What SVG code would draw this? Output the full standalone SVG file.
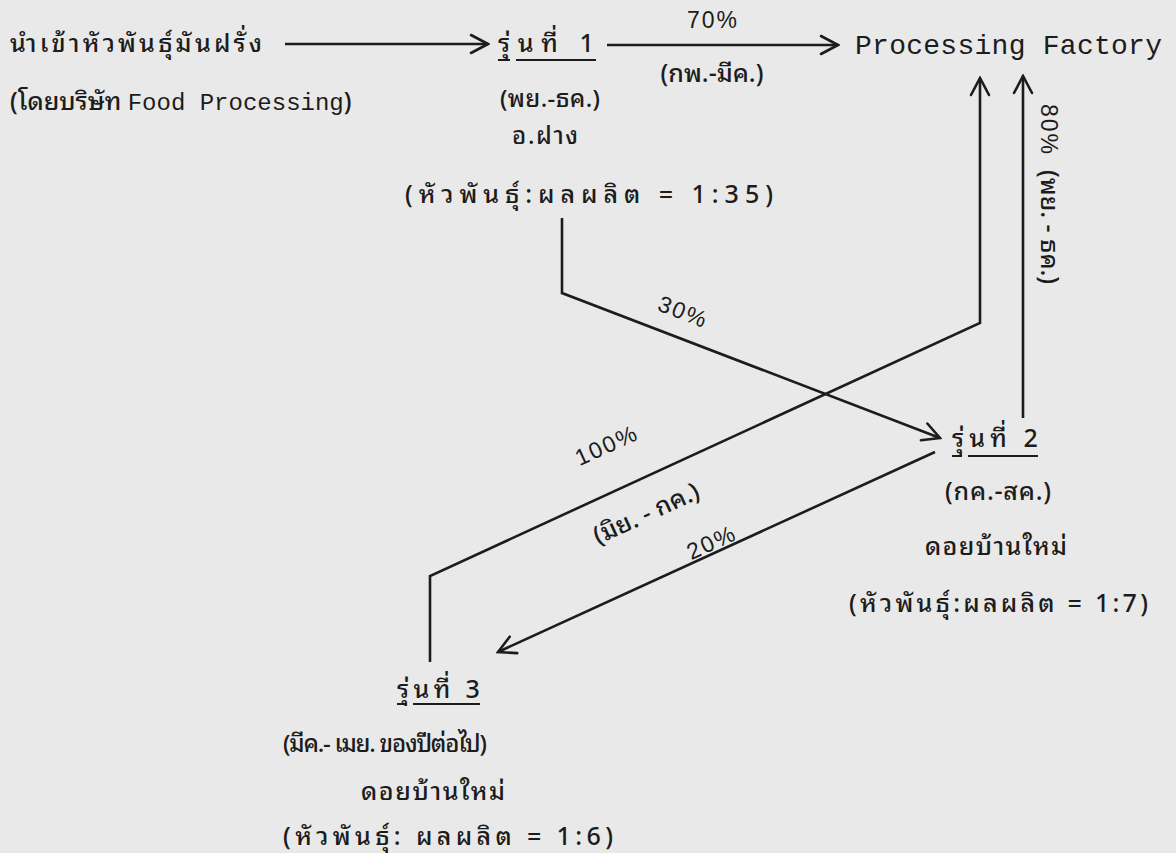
<svg xmlns="http://www.w3.org/2000/svg" width="1176" height="853" viewBox="0 0 1176 853">
<style>
.th{font-family:"Noto Sans Thai Looped","Noto Sans Thai","Loma","Garuda","Liberation Sans",sans-serif;font-size:25px;fill:#1c1c1c;font-weight:500}
.pc{font-family:"Liberation Sans","Noto Sans Thai",sans-serif;font-size:23px;fill:#1c1c1c;letter-spacing:2px}
.mono{font-family:"Liberation Mono","DejaVu Sans Mono",monospace;font-size:28px;fill:#1c1c1c}
.ln{fill:none;stroke:#1c1c1c;stroke-width:2.6;stroke-linejoin:miter}
.ul{stroke:#1c1c1c;stroke-width:2}
</style>
<defs>
<marker id="arr" viewBox="0 0 22 22" refX="20" refY="11" markerWidth="22" markerHeight="22" markerUnits="userSpaceOnUse" orient="auto">
<path d="M3,2 L20,11 L3,20" fill="none" stroke="#1c1c1c" stroke-width="2.6" stroke-linecap="round" stroke-linejoin="miter"/>
</marker>
</defs>
<rect width="1176" height="853" fill="#e9e9e9"/>

<g id="connectors">
<path class="ln" d="M285,44 H488" marker-end="url(#arr)"/>
<path class="ln" d="M607,45 H838" marker-end="url(#arr)"/>
<path class="ln" d="M562,218 V293 L940,438" marker-end="url(#arr)"/>
<path class="ln" d="M935,452 L498,652" marker-end="url(#arr)"/>
<path class="ln" d="M430,662 V576 L980,323 V78" marker-end="url(#arr)"/>
<path class="ln" d="M1023,418 V76" marker-end="url(#arr)"/>
</g>

<g id="labels">
<text class="pc" x="713" y="28" text-anchor="middle">70%</text>
<text class="th" x="712" y="82" text-anchor="middle">(กพ.-มีค.)</text>
<text class="pc" transform="translate(679,323) rotate(21)" text-anchor="middle" y="-4">30%</text>
<text class="pc" transform="translate(607,446) rotate(-24.6)" text-anchor="middle" y="7">100%</text>
<text class="th" transform="translate(646,513) rotate(-24.6)" text-anchor="middle" y="9">(มิย. - กค.)</text>
<text class="pc" transform="translate(712,543) rotate(-24.6)" text-anchor="middle" y="7">20%</text>
<text transform="translate(1041,104) rotate(90)"><tspan class="pc">80%</tspan><tspan class="th" dx="14">(พย. - ธค.)</tspan></text>
</g>

<g id="source">
<text class="th" x="10" y="52" textLength="252" lengthAdjust="spacing">นำเข้าหัวพันธุ์มันฝรั่ง</text>
<text class="th" x="10" y="110">(โดยบริษัท <tspan class="mono" style="font-size:24px">Food Processing</tspan>)</text>
</g>

<g id="gen1">
<text class="th" x="498" y="52" textLength="96" lengthAdjust="spacing">รุ่นที่  1</text>
<line class="ul" x1="498" y1="60" x2="510" y2="60"/>
<line class="ul" x1="516" y1="60" x2="596" y2="60"/>
<text class="th" x="500" y="107" style="font-size:24px" textLength="100" lengthAdjust="spacing">(พย.-ธค.)</text>
<text class="th" x="512" y="144" style="font-size:24px" textLength="66" lengthAdjust="spacing">อ.ฝาง</text>
<text class="th" x="405" y="203" textLength="368" lengthAdjust="spacing">(หัวพันธุ์:ผลผลิต  =  1:35)</text>
</g>

<g id="factory">
<text class="mono" x="855" y="54" textLength="307" lengthAdjust="spacing">Processing Factory</text>
</g>

<g id="gen2">
<text class="th" x="952" y="447" textLength="86" lengthAdjust="spacing">รุ่นที่  2</text>
<line class="ul" x1="952" y1="456" x2="962" y2="456"/>
<line class="ul" x1="968" y1="456" x2="1038" y2="456"/>
<text class="th" x="945" y="500" textLength="106" lengthAdjust="spacing">(กค.-สค.)</text>
<text class="th" x="925" y="555" textLength="142" lengthAdjust="spacing">ดอยบ้านใหม่</text>
<text class="th" x="849" y="612" textLength="299" lengthAdjust="spacing">(หัวพันธุ์:ผลผลิต  =  1:7)</text>
</g>

<g id="gen3">
<text class="th" x="397" y="698" textLength="83" lengthAdjust="spacing">รุ่นที่  3</text>
<line class="ul" x1="397" y1="704" x2="407" y2="704"/>
<line class="ul" x1="413" y1="704" x2="480" y2="704"/>
<text class="th" x="283" y="752" style="font-size:24px" textLength="204" lengthAdjust="spacing">(มีค.- เมย. ของปีต่อไป)</text>
<text class="th" x="361" y="800" textLength="144" lengthAdjust="spacing">ดอยบ้านใหม่</text>
<text class="th" x="283" y="845" textLength="330" lengthAdjust="spacing">(หัวพันธุ์:  ผลผลิต  =  1:6)</text>
</g>
</svg>
